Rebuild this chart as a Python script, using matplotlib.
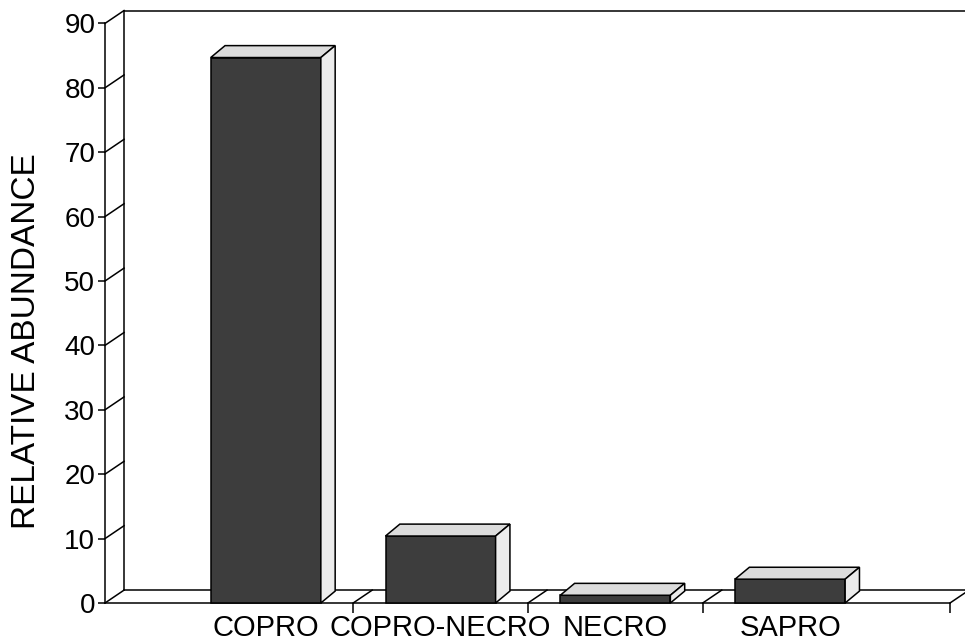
import matplotlib
matplotlib.use("Agg")
import matplotlib.pyplot as plt
from matplotlib.patches import Polygon, Rectangle

plt.rcParams['font.family'] = ['Liberation Sans', 'DejaVu Sans']

# data
categories = ['COPRO', 'COPRO-NECRO', 'NECRO', 'SAPRO']
abundance = [84.7, 10.4, 1.2, 3.7]
yticks = [0, 10, 20, 30, 40, 50, 60, 70, 80, 90]

# pseudo 3d look
bar_w = 0.63
floor_dx, floor_dy = 0.109, 2.0   # depth of the floor / wall
bar_dx, bar_dy = 0.082, 1.85      # depth of each bar
x_lo, x_hi = -0.92, 3.915
front_col = '#3d3d3d'
top_col = '#dcdcdc'
side_col = '#ececec'
lw = 1.1

fig = plt.figure(figsize=(9.65, 6.43), dpi=100)
ax = fig.add_axes([105/965, 40/643, 845/965, 579.6/643])
ax.set_xlim(x_lo, x_hi)
ax.set_ylim(0, 90)

for s in ['top', 'right']:
    ax.spines[s].set_visible(False)
for s in ['left', 'bottom']:
    ax.spines[s].set_linewidth(lw)
    ax.spines[s].set_color('black')

ax.set_yticks(yticks)
ax.tick_params(axis='y', direction='out', length=5, width=lw, labelsize=20, pad=2)

# category boundaries as major ticks, names on minor ticks
ax.set_xticks([0.5, 1.5, 2.5, x_hi])
ax.set_xticklabels([])
ax.tick_params(axis='x', which='major', direction='out', length=7, width=lw)
ax.set_xticks(range(len(categories)), minor=True)
ax.set_xticklabels(categories, minor=True)
ax.tick_params(axis='x', which='minor', length=0, labelsize=21, pad=8)

ax.set_ylabel('RELATIVE ABUNDANCE', fontsize=24)
ax.yaxis.set_label_coords(-0.074, 0.452)

# back wall and floor
bx = x_lo + floor_dx
ax.plot([bx, bx], [floor_dy, 90 + floor_dy], color='black', lw=lw, clip_on=False, zorder=1)
ax.plot([bx, x_hi + floor_dx + 0.05], [90 + floor_dy, 90 + floor_dy], color='black', lw=lw, clip_on=False, zorder=1)
ax.plot([bx, x_hi + floor_dx], [floor_dy, floor_dy], color='black', lw=lw, clip_on=False, zorder=1)
for v in yticks:
    ax.plot([x_lo, bx], [v, v + floor_dy], color='black', lw=lw, clip_on=False, zorder=1)
for xb in [0.5, 1.5, 2.5, x_hi]:
    ax.plot([xb, xb + floor_dx], [0, floor_dy], color='black', lw=lw, clip_on=False, zorder=1)

# bars
for i, v in enumerate(abundance):
    x0 = i - bar_w / 2
    x1 = i + bar_w / 2
    ax.add_patch(Rectangle((x0, 0), bar_w, v, facecolor=front_col, edgecolor='black',
                           lw=lw, clip_on=False, zorder=3))
    ax.add_patch(Polygon([(x0, v), (x1, v), (x1 + bar_dx, v + bar_dy), (x0 + bar_dx, v + bar_dy)],
                         closed=True, facecolor=top_col, edgecolor='black', lw=lw,
                         clip_on=False, zorder=3))
    ax.add_patch(Polygon([(x1, 0), (x1 + bar_dx, bar_dy), (x1 + bar_dx, v + bar_dy), (x1, v)],
                         closed=True, facecolor=side_col, edgecolor='black', lw=lw,
                         clip_on=False, zorder=3))

fig.savefig('out.png', dpi=100)
